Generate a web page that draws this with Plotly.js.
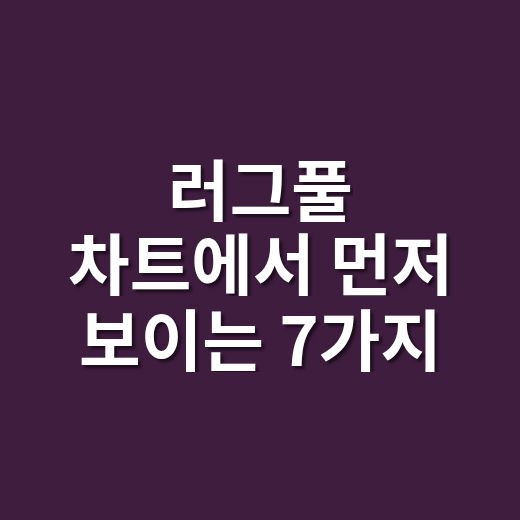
<!DOCTYPE html>
<html>
<head>
<meta charset="utf-8">
<script src="https://cdn.plot.ly/plotly-3.0.1.min.js"></script>
<style>
  html, body { margin: 0; padding: 0; background: #3f1d3f; }
  #chart { width: 520px; height: 520px; }
</style>
</head>
<body>
<div id="chart"></div>
<script>
// title card text, one entry per line
var lines = ["러그풀", "차트에서 먼저", "보이는 7가지"];
var lineY = [334, 260, 184];

var annotations = [];
for (var i = 0; i < lines.length; i++) {
    annotations.push({
        x: 260,
        y: lineY[i],
        xref: "x",
        yref: "y",
        text: "<b>" + lines[i] + "</b>",
        showarrow: false,
        xanchor: "center",
        yanchor: "middle",
        height: 72,
        valign: "middle",
        font: {
            family: "Noto Sans CJK KR, Noto Sans, sans-serif",
            size: 67,
            color: "#ffffff",
            shadow: "3px 3px 3px rgba(0,0,0,0.55)"
        }
    });
}

var layout = {
    width: 520,
    height: 520,
    margin: {l: 0, r: 0, t: 0, b: 0},
    paper_bgcolor: "#3f1d3f",
    plot_bgcolor: "#3f1d3f",
    xaxis: {range: [0, 520], visible: false, fixedrange: true},
    yaxis: {range: [0, 520], visible: false, fixedrange: true},
    showlegend: false,
    annotations: annotations
};

Plotly.newPlot("chart", [], layout, {displayModeBar: false, staticPlot: true});
</script>
</body>
</html>
